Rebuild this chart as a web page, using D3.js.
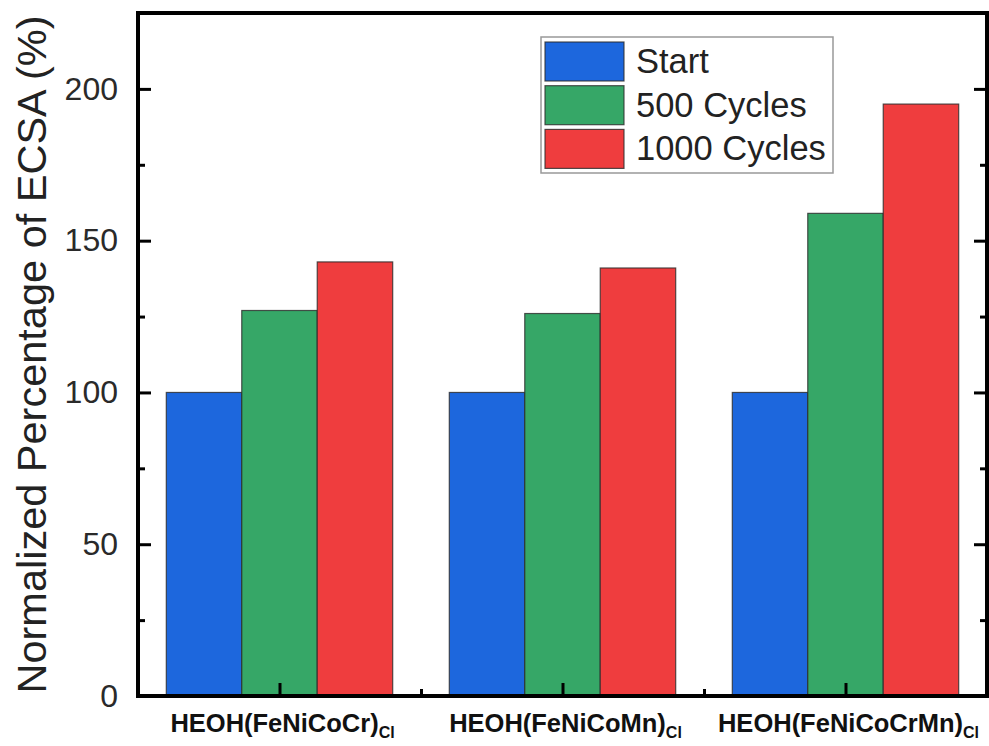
<!DOCTYPE html>
<html>
<head>
<meta charset="utf-8">
<script src="https://cdn.jsdelivr.net/npm/d3@7"></script>
<style>
  html, body { margin: 0; padding: 0; background: #fff; }
  svg { display: block; }
  text { font-family: "Liberation Sans", Arial, Helvetica, sans-serif; }
</style>
</head>
<body>
<svg id="chart" width="989" height="746"></svg>
<script>
// Sample names (x categories) and the chloride subscript shown after each
const categories = ["HEOH(FeNiCoCr)", "HEOH(FeNiCoMn)", "HEOH(FeNiCoCrMn)"];
const categorySubscript = "Cl";

// Normalized ECSA (%) per series
const seriesNames = ["Start", "500 Cycles", "1000 Cycles"];
const startValues = [100, 100, 100];
const cycles500Values = [127, 126, 159];
const cycles1000Values = [143, 141, 195];
const seriesColors = ["#1d67dd", "#36a767", "#ef3d3e"];

// Axis ticks
const yMajorTicks = [0, 50, 100, 150, 200];
const yMinorTicks = [25, 75, 125, 175, 225];
const yLabel = "Normalized Percentage of ECSA (%)";

const seriesValues = [startValues, cycles500Values, cycles1000Values];

const svg = d3.select("#chart");
const plotLeft = 138, plotRight = 987, plotTop = 13, plotBottom = 696;

const x = d3.scaleLinear().domain([0.5, 3.5]).range([plotLeft, plotRight]);
const y = d3.scaleLinear().domain([0, 225]).range([plotBottom, plotTop]);

const groupWidth = 0.8;
const barUnits = groupWidth / seriesNames.length;

// Bars
seriesValues.forEach((vals, j) => {
  svg.append("g")
    .selectAll("rect")
    .data(vals)
    .join("rect")
    .attr("x", (d, i) => x(i + 1 - groupWidth / 2 + j * barUnits))
    .attr("width", (d, i) => x(i + 1 - groupWidth / 2 + (j + 1) * barUnits) - x(i + 1 - groupWidth / 2 + j * barUnits))
    .attr("y", d => y(d))
    .attr("height", d => y(0) - y(d))
    .attr("fill", seriesColors[j])
    .attr("stroke", "#2a2a2a")
    .attr("stroke-opacity", 0.8)
    .attr("stroke-width", 1.2);
});

function styleAxis(g) {
  g.select(".domain").remove();
  g.selectAll(".tick line").attr("stroke", "#000").attr("stroke-width", 3);
}

// Left axis: major ticks with labels, minor ticks without
svg.append("g")
  .attr("transform", `translate(${plotLeft},0)`)
  .call(d3.axisLeft(y).tickValues(yMajorTicks).tickSizeInner(-13).tickSizeOuter(0).tickPadding(20))
  .call(styleAxis)
  .call(g => g.selectAll(".tick text")
    .attr("font-size", 32)
    .attr("fill", "#2a2a2a")
    .attr("font-family", "'Liberation Sans', Arial, sans-serif"));

svg.append("g")
  .attr("transform", `translate(${plotLeft},0)`)
  .call(d3.axisLeft(y).tickValues(yMinorTicks).tickSizeInner(-7).tickSizeOuter(0).tickFormat(""))
  .call(styleAxis);

// Right axis mirrors the ticks inward
svg.append("g")
  .attr("transform", `translate(${plotRight},0)`)
  .call(d3.axisRight(y).tickValues(yMajorTicks).tickSizeInner(-13).tickSizeOuter(0).tickFormat(""))
  .call(styleAxis);
svg.append("g")
  .attr("transform", `translate(${plotRight},0)`)
  .call(d3.axisRight(y).tickValues(yMinorTicks).tickSizeInner(-7).tickSizeOuter(0).tickFormat(""))
  .call(styleAxis);

// Bottom axis ticks: majors at categories, minors between groups
svg.append("g")
  .attr("transform", `translate(0,${plotBottom})`)
  .call(d3.axisBottom(x).tickValues(categories.map((c, i) => i + 1)).tickSizeInner(-13).tickSizeOuter(0).tickFormat(""))
  .call(styleAxis);
svg.append("g")
  .attr("transform", `translate(0,${plotBottom})`)
  .call(d3.axisBottom(x).tickValues([1.5, 2.5]).tickSizeInner(-7).tickSizeOuter(0).tickFormat(""))
  .call(styleAxis);

// Category labels with subscript
const xl = svg.append("g").selectAll("text")
  .data(categories)
  .join("text")
  .attr("x", (d, i) => x(i + 1) + 3)
  .attr("y", 732)
  .attr("text-anchor", "middle")
  .attr("font-size", 25.5)
  .attr("font-weight", "bold")
  .attr("fill", "#111");
xl.append("tspan").text(d => d);
xl.append("tspan").attr("dy", 6).attr("font-size", 16).text(categorySubscript);

// Frame
svg.append("rect")
  .attr("x", plotLeft).attr("y", plotTop)
  .attr("width", plotRight - plotLeft).attr("height", plotBottom - plotTop)
  .attr("fill", "none").attr("stroke", "#000").attr("stroke-width", 4);

// Y axis title
svg.append("text")
  .attr("transform", `translate(46,${(plotTop + plotBottom) / 2}) rotate(-90)`)
  .attr("text-anchor", "middle")
  .attr("font-size", 41.5)
  .attr("fill", "#222")
  .text(yLabel);

// Legend
const legend = svg.append("g");
legend.append("rect")
  .attr("x", 541).attr("y", 37).attr("width", 292).attr("height", 136)
  .attr("fill", "#fff").attr("stroke", "#999").attr("stroke-width", 1.5);
const items = legend.selectAll("g.item")
  .data(seriesNames)
  .join("g")
  .attr("class", "item")
  .attr("transform", (d, i) => `translate(545,${42 + i * 43.7})`);
items.append("rect")
  .attr("width", 79).attr("height", 39)
  .attr("fill", (d, i) => seriesColors[i])
  .attr("stroke", "#2a2a2a").attr("stroke-opacity", 0.8).attr("stroke-width", 1.2);
items.append("text")
  .attr("x", 91).attr("y", 31)
  .attr("font-size", 34.5)
  .attr("fill", "#222")
  .text(d => d);
</script>
</body>
</html>
